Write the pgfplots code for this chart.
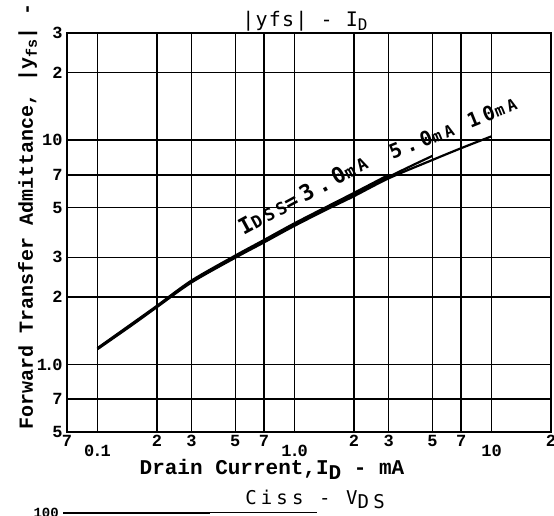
\documentclass[border=0pt]{standalone}
\usepackage{fontspec}
\setmainfont{Liberation Serif}
\setmonofont{Liberation Mono}
\newfontfamily\plotter[LetterSpace=22]{DejaVu Sans Mono}
\newfontfamily\plottertitle[LetterSpace=6]{DejaVu Sans Mono}
\usepackage{pgfplots}
\pgfplotsset{compat=1.18}

\begin{document}
\begin{tikzpicture}
\begin{axis}[
  at={(0,0)}, anchor=south west,
  xmode=log, ymode=log,
  scale only axis, width=484pt, height=399pt,
  xmin=0.07, xmax=20, ymin=0.5, ymax=30,
  xtick={0.1,1,10}, xticklabels={0\kern-2pt.\kern-2pt1,1\kern-2pt.\kern-2pt0,10},
  extra x ticks={0.07,0.2,0.3,0.5,0.7,2,3,5,7,20},
  extra x tick labels={7,2,3,5,7,2,3,5,7,2},
  extra x tick style={grid=major, xticklabel style={yshift=10pt}},
  xticklabel style={yshift=-10pt},
  ytick={0.5,0.7,1,2,3,5,7,10,20,30},
  yticklabels={5,7,1\kern-3pt.\kern-2pt0,2,3,5,7,10,2,3},
  minor xtick={}, minor ytick={},
  grid=major,
  major grid style={black, line width=1.5pt},
  axis line style={black, line width=1.9pt},
  tick style={draw=none},
  tick label style={font=\ttfamily\bfseries\fontsize{17}{17}\selectfont, text=black},
  yticklabel style={xshift=-1pt},
  clip=false,
]
\addplot[black, line width=2.6pt, smooth, tension=0.5] coordinates {
 (0.1,1.18) (0.15,1.52) (0.2,1.82) (0.3,2.36) (0.5,3.05) (0.7,3.58)
 (1,4.25) (1.5,5.1) (2,5.8) (3,6.98)};
\addplot[black, line width=2.2pt, smooth, tension=0.5] coordinates {
 (0.1,1.18) (0.15,1.51) (0.2,1.81) (0.3,2.34) (0.5,3.02) (0.7,3.54)
 (1,4.2) (1.5,5.03) (2,5.7) (3,6.85) (4,7.75) (5,8.5)};
\addplot[black, line width=2.2pt, smooth, tension=0.5] coordinates {
 (0.1,1.17) (0.15,1.50) (0.2,1.80) (0.3,2.32) (0.5,2.99) (0.7,3.5)
 (1,4.15) (1.5,4.97) (2,5.62) (3,6.75) (5,8.15) (7,9.2) (10,10.4)};
\node[rotate=28.5, anchor=base west, inner sep=0pt]
  at (axis cs:0.55,3.74)
  {\plotter\bfseries\fontsize{22}{22}\selectfont I{\fontsize{17}{17}\selectfont DSS}=3.0{\fontsize{17}{17}\selectfont mA}};
\node[rotate=22, anchor=base west, inner sep=0pt]
  at (axis cs:3.14,8.15)
  {\plotter\bfseries\fontsize{20}{20}\selectfont 5.0{\fontsize{16}{16}\selectfont mA} 10{\fontsize{16}{16}\selectfont mA}};
\end{axis}
% title
\node[anchor=base, inner sep=0pt] at (238pt,405pt)
  {\plottertitle\fontsize{20}{20}\selectfont |yfs| - I\raisebox{-4pt}{\fontsize{16}{16}\selectfont D}};
% x label
\node[anchor=base, inner sep=0pt] at (205pt,-43pt)
  {\ttfamily\bfseries\fontsize{21}{21}\selectfont Drain Current,I\raisebox{-5pt}{D} - mA};
% y label
\node[rotate=90, anchor=base west, inner sep=0pt] at (-34pt,2pt)
  {\ttfamily\bfseries\fontsize{20}{20}\selectfont Forward Transfer Admittance, |y\raisebox{-4pt}{\fontsize{15}{15}\selectfont fs}| - mS};
% next chart title (cut)
\node[anchor=base, inner sep=0pt] at (248pt,-73pt)
  {\plotter\fontsize{19}{19}\selectfont Ciss - V\raisebox{-4pt}{DS}};
\node[anchor=base east, inner sep=0pt] at (-8pt,-86pt)
  {\ttfamily\bfseries\fontsize{14}{14}\selectfont 100};
\draw[black, line width=1.8pt] (-4pt,-81pt) -- (143pt,-81pt);
\draw[black, line width=1.0pt] (143pt,-81pt) -- (250pt,-81pt);
\pgfresetboundingbox
\useasboundingbox (-67pt,-84pt) rectangle (487pt,432pt);
\end{tikzpicture}
\end{document}
